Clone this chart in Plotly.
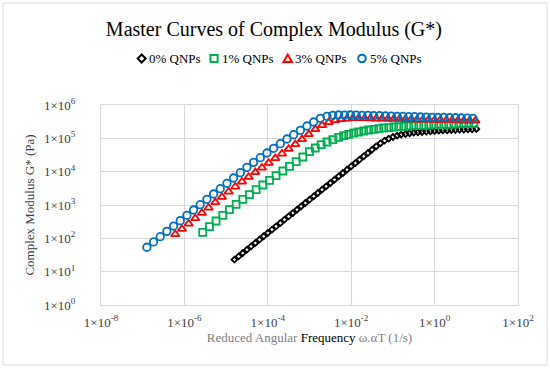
import plotly.graph_objects as go

# ---------------- data ----------------
freq_0 = [1.58e-5, 2.00e-5, 2.51e-5, 3.16e-5, 3.98e-5, 5.01e-5, 6.31e-5, 7.94e-5,
          1.00e-4, 1.26e-4, 1.58e-4, 2.00e-4, 2.51e-4, 3.16e-4, 3.98e-4, 5.01e-4, 6.31e-4, 7.94e-4,
          1.00e-3, 1.26e-3, 1.58e-3, 2.00e-3, 2.51e-3, 3.16e-3, 3.98e-3, 5.01e-3, 6.31e-3, 7.94e-3,
          1.00e-2, 1.26e-2, 1.58e-2, 2.00e-2, 2.51e-2, 3.16e-2, 3.98e-2, 5.01e-2, 6.31e-2, 7.94e-2,
          0.100, 0.126, 0.158, 0.200, 0.251, 0.316, 0.398, 0.501, 0.631, 0.794,
          1.00, 1.26, 1.58, 2.00, 2.51, 3.16, 3.98, 5.01, 6.31, 7.94, 10.0]
gstar_0 = [22.9, 28.8, 36.3, 45.7, 57.5, 72.4, 91.2, 115, 145, 182, 229, 288, 363, 457, 575,
           724, 912, 1148, 1445, 1820, 2291, 2884, 3631, 4571, 5754, 7244, 9120, 11480, 14450,
           18200, 22910, 28840, 36310, 45710, 57540, 70790, 85110, 97720, 109600, 120200,
           128800, 134900, 141300, 147900, 151400, 154900, 158500, 162200, 166000, 169800,
           173800, 174500, 177800, 178500, 182000, 182600, 186200, 186900, 190500]

freq_1 = [2.75e-6, 3.98e-6, 5.75e-6, 8.32e-6, 1.20e-5, 1.74e-5, 2.51e-5, 3.63e-5, 5.25e-5,
          7.59e-5, 1.10e-4, 1.58e-4, 2.29e-4, 3.31e-4, 4.79e-4, 6.92e-4, 1.00e-3, 1.38e-3,
          1.91e-3, 2.63e-3, 3.63e-3, 5.01e-3, 6.61e-3, 8.71e-3, 1.15e-2, 1.51e-2, 2.00e-2,
          2.63e-2, 3.47e-2, 4.57e-2, 6.03e-2, 7.94e-2, 0.105, 0.138, 0.182, 0.240, 0.316,
          0.417, 0.550, 0.724, 0.955, 1.26, 1.66, 2.19, 2.88, 3.80, 5.01, 6.61, 8.71]
gstar_1 = [151, 224, 331, 490, 724, 1047, 1479, 2042, 2884, 3981, 5495, 7586, 10470, 14450,
           19950, 27540, 39810, 51290, 64570, 77620, 91200, 107200, 120200, 131800, 144500,
           154900, 166000, 177800, 186200, 195000, 204200, 208900, 218800, 223900, 229100,
           234400, 239900, 245500, 246000, 251200, 257000, 257500, 263000, 263500, 269200,
           269800, 275400, 275800, 276000]

freq_3 = [6.03e-7, 8.71e-7, 1.26e-6, 1.82e-6, 2.63e-6, 3.80e-6, 5.50e-6, 7.94e-6, 1.15e-5,
          1.66e-5, 2.40e-5, 3.47e-5, 5.01e-5, 7.24e-5, 1.05e-4, 1.51e-4, 2.19e-4, 3.16e-4,
          4.57e-4, 6.61e-4, 9.55e-4, 1.38e-3, 2.00e-3, 2.88e-3, 4.17e-3, 5.75e-3, 7.94e-3,
          1.10e-2, 1.51e-2, 2.09e-2, 2.88e-2, 3.98e-2, 5.50e-2, 7.59e-2, 0.105, 0.145, 0.200,
          0.275, 0.380, 0.525, 0.724, 1.00, 1.38, 1.91, 2.63, 3.63, 5.01, 6.92, 9.55]
gstar_3 = [132, 191, 275, 398, 575, 832, 1202, 1738, 2512, 3548, 5012, 6918, 9550, 13180,
           18200, 25120, 34670, 47860, 66070, 93330, 131800, 186200, 245500, 302000, 346700,
           371500, 389000, 398100, 399000, 398100, 397000, 389000, 388000, 380200, 380000,
           379000, 371500, 371000, 363100, 362000, 361000, 354800, 354000, 353000, 346700,
           346000, 338800, 338000, 337000]

freq_5 = [1.26e-7, 1.82e-7, 2.63e-7, 3.80e-7, 5.50e-7, 7.94e-7, 1.15e-6, 1.66e-6, 2.40e-6,
          3.47e-6, 5.01e-6, 7.24e-6, 1.05e-5, 1.51e-5, 2.19e-5, 3.16e-5, 4.57e-5, 6.61e-5,
          9.55e-5, 1.38e-4, 2.00e-4, 2.88e-4, 4.17e-4, 6.03e-4, 8.71e-4, 1.26e-3, 1.82e-3,
          2.63e-3, 3.63e-3, 5.01e-3, 6.92e-3, 9.55e-3, 1.32e-2, 1.82e-2, 2.51e-2, 3.47e-2,
          4.79e-2, 6.61e-2, 9.12e-2, 0.126, 0.174, 0.240, 0.331, 0.457, 0.631, 0.871, 1.20,
          1.66, 2.29, 3.16, 4.37, 6.03, 8.32]
gstar_5 = [54, 78, 112, 162, 234, 339, 490, 708, 1023, 1479, 2138, 3090, 4467, 6457, 9333,
           13490, 19050, 26300, 36310, 50120, 69180, 95500, 128800, 173800, 234400, 309000,
           398100, 457100, 489800, 501200, 500000, 501200, 499000, 489800, 488000, 478600,
           477000, 467700, 466000, 457100, 455000, 446700, 445000, 436500, 435000, 426600,
           425000, 424000, 416900, 415000, 407400, 406000, 398100]

series_names = ["0% QNPs", "1% QNPs", "3% QNPs", "5% QNPs"]
series_colors = ["#000000", "#00B050", "#FF0000", "#0070C0"]
series_symbols = ["diamond-open", "square-open", "triangle-up-open", "circle-open"]
series_sizes = [4.5, 7, 7.5, 7.5]

x_tick_vals = [1e-8, 1e-6, 1e-4, 1e-2, 1e0, 1e2]
x_tick_text = ["1×10<sup>-8</sup>", "1×10<sup>-6</sup>", "1×10<sup>-4</sup>",
               "1×10<sup>-2</sup>", "1×10<sup>0</sup>", "1×10<sup>2</sup>"]
y_tick_vals = [1e0, 1e1, 1e2, 1e3, 1e4, 1e5, 1e6]
y_tick_text = ["1×10<sup>0</sup>", "1×10<sup>1</sup>", "1×10<sup>2</sup>", "1×10<sup>3</sup>",
               "1×10<sup>4</sup>", "1×10<sup>5</sup>", "1×10<sup>6</sup>"]

# ---------------- figure ----------------
FONT = "Liberation Serif"
fig = go.Figure()
xs = [freq_0, freq_1, freq_3, freq_5]
ys = [gstar_0, gstar_1, gstar_3, gstar_5]
for x, y, name, col, sym, sz in zip(xs, ys, series_names, series_colors, series_symbols, series_sizes):
    fig.add_trace(go.Scatter(
        x=x, y=y, mode="markers", name=name, showlegend=False,
        marker=dict(symbol=sym, size=sz, color=col, line=dict(width=1.8, color=col)),
    ))

# plot-area geometry in pixels (used for the hand-placed legend and frame)
L, R, T, B = 101, 32, 105, 64
W, H = 550, 369
PW, PH = W - L - R, H - T - B

def px_x(px):
    return (px - L) / PW

def px_y(py):
    return (H - B - py) / PH

shapes = [dict(type="rect", xref="paper", yref="paper",
               x0=px_x(3), x1=px_x(547), y0=px_y(365), y1=px_y(3),
               line=dict(color="#D9D9D9", width=1), layer="below")]
annotations = []

leg_sym_x = [141.7, 214, 287.7, 362]
leg_y = 58.5
for i, (name, col) in enumerate(zip(series_names, series_colors)):
    cx = px_x(leg_sym_x[i])
    cy = px_y(leg_y)
    base = dict(xref="paper", yref="paper", xsizemode="pixel", ysizemode="pixel",
                xanchor=cx, yanchor=cy, line=dict(color=col, width=2))
    if i == 0:
        shapes.append(dict(type="path", path="M 0,4 L 4,0 L 0,-4 L -4,0 Z", **base))
    elif i == 1:
        shapes.append(dict(type="rect", x0=-3.6, x1=3.6, y0=-3.6, y1=3.6, **base))
    elif i == 2:
        shapes.append(dict(type="path", path="M -4.2,-3.4 L 4.2,-3.4 L 0,4 Z", **base))
    else:
        shapes.append(dict(type="circle", x0=-3.8, x1=3.8, y0=-3.8, y1=3.8, **base))
    annotations.append(dict(xref="paper", yref="paper", x=px_x(leg_sym_x[i] + 5.5), y=cy,
                            xanchor="left", yanchor="middle", showarrow=False, text=name,
                            font=dict(family=FONT, size=13, color="#000000")))

fig.update_layout(
    width=W, height=H,
    margin=dict(l=L, r=R, t=T, b=B, autoexpand=False),
    paper_bgcolor="white", plot_bgcolor="white",
    font=dict(family=FONT, size=13, color="#404040"),
    title=dict(text="Master Curves of Complex Modulus (G*)", x=0.498, xanchor="center",
               y=(H - 28.5) / H, yanchor="middle", yref="container",
               font=dict(family=FONT, size=20, color="#000000")),
    shapes=shapes, annotations=annotations,
    showlegend=False,
)

fig.update_xaxes(
    type="log", range=[-8, 2], tickvals=x_tick_vals, ticktext=x_tick_text,
    showgrid=True, gridcolor="#D9D9D9", gridwidth=1, zeroline=False,
    showline=True, linecolor="#D9D9D9", linewidth=1, mirror=True,
    ticks="", ticklabelstandoff=5, automargin=False,
    tickfont=dict(family=FONT, size=13, color="#404040"),
    title=dict(text="Reduced Angular <span style='color:#000000'>Frequency</span> ω.αT (1/s)",
               font=dict(family=FONT, size=13, color="#808080"), standoff=4),
)
fig.update_yaxes(
    type="log", range=[0, 6], tickvals=y_tick_vals, ticktext=y_tick_text,
    showgrid=True, gridcolor="#D9D9D9", gridwidth=1, zeroline=False,
    showline=True, linecolor="#D9D9D9", linewidth=1, mirror=True,
    ticks="", ticklabelstandoff=22, automargin=False,
    tickfont=dict(family=FONT, size=13, color="#404040"),
    title=dict(text="Complex Modulus G* (Pa)",
               font=dict(family=FONT, size=13, color="#404040"), standoff=6),
)

fig.write_html("out.html", config={"displayModeBar": False},
               post_script="document.body.style.margin='0';document.body.style.overflow='hidden';")
